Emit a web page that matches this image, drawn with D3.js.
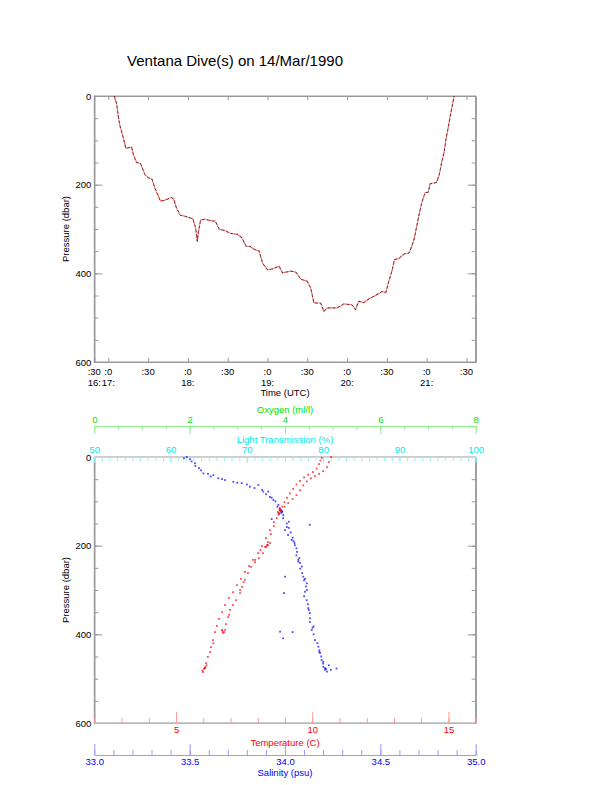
<!DOCTYPE html>
<html>
<head>
<meta charset="utf-8">
<script src="https://cdn.jsdelivr.net/npm/d3@7"></script>
<style>
  body { margin: 0; background: #fff; }
  svg { display: block; }
  text { font-family: "Liberation Sans", Arial, sans-serif; }
</style>
</head>
<body>
<svg id="chart" width="612" height="785"></svg>
<script>
// --- dive track: time (decimal hours UTC) and pressure (dbar)
var diveTime = [17.075, 17.105, 17.125, 17.146, 17.188, 17.221, 17.293, 17.313, 17.355, 17.405,
    17.459, 17.500, 17.550, 17.584, 17.655, 17.709, 17.793, 17.821, 17.855, 17.905,
    17.959, 18.063, 18.096, 18.118, 18.130, 18.159, 18.209, 18.313, 18.343, 18.396,
    18.459, 18.534, 18.625, 18.680, 18.730, 18.780, 18.834, 18.896, 18.938, 19.000,
    19.063, 19.146, 19.188, 19.293, 19.355, 19.418, 19.500, 19.543, 19.584, 19.668,
    19.709, 19.750, 19.875, 19.959, 20.063, 20.105, 20.146, 20.209, 20.271, 20.375,
    20.438, 20.488, 20.521, 20.563, 20.596, 20.646, 20.721, 20.780, 20.813, 20.846,
    20.875, 20.905, 20.938, 20.980, 21.021, 21.043, 21.125, 21.159, 21.188, 21.218,
    21.243, 21.271, 21.293, 21.321, 21.346];
var divePres = [0, 18, 45, 67, 94, 118, 115, 131, 150, 152,
    177, 184, 188, 207, 237, 235, 229, 232, 252, 269,
    271, 277, 297, 328, 309, 280, 278, 282, 282, 301,
    303, 310, 312, 320, 339, 339, 346, 350, 377, 392,
    390, 384, 399, 395, 397, 413, 418, 433, 467, 467,
    486, 478, 478, 469, 471, 482, 463, 466, 458, 448,
    441, 443, 420, 395, 369, 367, 356, 354, 339, 320,
    294, 267, 241, 218, 217, 198, 195, 177, 150, 128,
    97, 71, 48, 22, 0];

var timeTicks = [17, 17.5, 18, 18.5, 19, 19.5, 20, 20.5, 21, 21.5];
var timeMinLabels = [':0', ':30', ':0', ':30', ':0', ':30', ':0', ':30', ':0', ':30'];
var timeHourLabels = ['17:', '', '18:', '', '19:', '', '20:', '', '21:', ''];
var timeStart = [':30', '16:'];
var presTicks = [0, 200, 400, 600];

// --- profile: temperature (C) vs pressure (dbar)
var tempPres = [0, 11, 23, 32, 38, 43, 48, 55, 64, 75, 86, 95, 104, 112, 119,
    2, 8, 16, 26, 34, 40, 46, 54, 62, 72, 82, 92, 102, 112, 120,
    120, 138, 156, 174, 192, 203, 217, 228, 237, 248, 262, 277, 293, 307, 323, 334, 345, 361, 377, 390, 397,
    124, 147, 165, 183, 201, 217, 232, 246, 259, 275, 289, 305, 318, 334, 350, 365, 381, 395, 413, 429, 440, 451, 465, 476, 485,
    200, 203, 198, 395, 392, 478, 482, 474, 121, 117,
    115, 122, 126, 199, 194, 232, 300, 390, 476, 130, 210, 282, 356, 420, 470];
var tempVal = [10.69, 10.61, 10.54, 10.40, 10.25, 10.10, 9.95, 9.80, 9.67, 9.55, 9.42, 9.28, 9.12, 8.98, 8.85,
    10.35, 10.30, 10.25, 10.16, 10.02, 9.85, 9.70, 9.55, 9.42, 9.30, 9.18, 9.07, 8.98, 8.90, 8.84,
    8.81, 8.70, 8.59, 8.48, 8.37, 8.30, 8.19, 8.04, 7.90, 7.75, 7.64, 7.53, 7.42, 7.35, 7.20, 7.09, 6.98, 6.91, 6.83, 6.80, 6.72,
    8.74, 8.59, 8.45, 8.30, 8.15, 8.01, 7.82, 7.68, 7.53, 7.38, 7.24, 7.09, 6.94, 6.80, 6.69, 6.58, 6.50, 6.43, 6.36, 6.28, 6.25, 6.17, 6.10, 6.06, 5.99,
    8.33, 8.27, 8.36, 6.76, 6.70, 6.02, 5.97, 6.08, 8.82, 8.80,
    8.81, 8.85, 8.77, 8.37, 8.45, 7.90, 7.35, 6.69, 6.06, 8.76, 8.10, 7.48, 6.95, 6.37, 6.12];

// --- profile: salinity (psu) vs pressure (dbar)
var salPres = [0, 5, 14, 25, 37, 38, 41, 48, 52, 56, 59, 67, 63, 78, 78, 90, 97, 108, 120, 131,
    150, 165, 176, 187, 199, 214, 232, 239, 247, 270, 285, 304, 323, 341, 364, 390, 413, 428, 442, 458, 473, 480,
    3, 10, 20, 30, 44, 50, 58, 62, 70, 74, 84, 92, 100, 112, 126, 138, 146, 158, 170, 182, 194, 206, 222, 236,
    252, 262, 278, 292, 314, 332, 352, 372, 382, 400, 420, 436, 450, 466, 476, 484,
    270, 307, 394, 409, 477, 153, 140, 480, 395, 470, 118, 122,
    124, 128, 160, 190, 228, 275, 300, 345, 385, 440, 462, 478];
var salVal = [33.485, 33.502, 33.528, 33.549, 33.572, 33.596, 33.624, 33.650, 33.685, 33.729, 33.773, 33.816, 33.860, 33.886, 33.912, 33.921, 33.939, 33.965, 33.974, 33.991,
    34.009, 34.000, 34.016, 34.035, 34.052, 34.063, 34.070, 34.079, 34.088, 34.096, 34.114, 34.105, 34.114, 34.122, 34.131, 34.140, 34.157, 34.175, 34.184, 34.192, 34.201, 34.210,
    33.47, 33.51, 33.53, 33.56, 33.61, 33.67, 33.75, 33.80, 33.84, 33.88, 33.90, 33.93, 33.95, 33.96, 33.98, 33.99, 34.02, 34.01, 34.03, 34.04, 34.05, 34.06, 34.06, 34.07,
    34.08, 34.09, 34.10, 34.11, 34.10, 34.12, 34.13, 34.13, 34.15, 34.15, 34.17, 34.18, 34.19, 34.20, 34.21, 34.22,
    34.00, 33.995, 33.974, 33.99, 34.27, 34.13, 33.93, 34.24, 34.04, 34.23, 33.975, 33.985,
    33.985, 33.97, 34.02, 34.045, 34.075, 34.105, 34.115, 34.125, 34.145, 34.18, 34.20, 34.215];

var svg = d3.select('#chart');
var left = 94.3, right = 475.7;
var top1 = { t: 96, b: 362 };
var top2 = { t: 457, b: 723 };
var grey = '#999';

svg.append('text')
    .attr('x', 235).attr('y', 66)
    .attr('text-anchor', 'middle')
    .attr('font-size', 15)
    .text('Ventana Dive(s) on 14/Mar/1990');

function frame(g, box, stroke) {
    g.append('rect')
        .attr('x', left).attr('y', box.t)
        .attr('width', right - left).attr('height', box.b - box.t)
        .attr('fill', 'none').attr('stroke', stroke);
}

function styleAxis(sel, col, tcol) {
    sel.select('.domain').attr('stroke', col);
    sel.selectAll('.tick line').attr('stroke', col);
    sel.selectAll('.tick text').attr('fill', tcol || '#000')
        .attr('font-size', 9.5).attr('font-family', '"Liberation Sans", Arial, sans-serif');
}

function pressureAxes(g, y) {
    var minor = d3.range(0, 601, 50);
    g.append('g').attr('transform', 'translate(' + left + ',0)')
        .call(d3.axisLeft(y).tickValues(minor).tickSize(-4).tickFormat(''))
        .call(styleAxis, grey);
    g.append('g').attr('transform', 'translate(' + left + ',0)')
        .call(d3.axisLeft(y).tickValues(presTicks).tickSize(-8).tickPadding(3).tickFormat(d3.format('d')))
        .call(styleAxis, grey);
    g.append('g').attr('transform', 'translate(' + right + ',0)')
        .call(d3.axisRight(y).tickValues(minor).tickSize(-4).tickFormat(''))
        .call(styleAxis, grey);
    g.append('g').attr('transform', 'translate(' + right + ',0)')
        .call(d3.axisRight(y).tickValues(presTicks).tickSize(-8).tickFormat(''))
        .call(styleAxis, grey);
    g.append('text')
        .attr('transform', 'translate(69,' + ((y.range()[0] + y.range()[1]) / 2) + ') rotate(-90)')
        .attr('text-anchor', 'middle').attr('font-size', 9.5)
        .text('Pressure (dbar)');
}

// ---------- top panel: pressure vs time
var g1 = svg.append('g');
var x1 = d3.scaleLinear().domain([16.824, 21.616]).range([left, right]);
var y1 = d3.scaleLinear().domain([0, 600]).range([top1.t, top1.b]);

frame(g1, top1, grey);
pressureAxes(g1, y1);

g1.append('g').attr('transform', 'translate(0,' + top1.t + ')')
    .call(d3.axisTop(x1).tickValues(timeTicks).tickSize(-4).tickFormat(''))
    .call(styleAxis, grey);
g1.append('g').attr('transform', 'translate(0,' + top1.b + ')')
    .call(d3.axisBottom(x1).tickValues(timeTicks).tickSize(-4).tickFormat(''))
    .call(styleAxis, grey);

var tl = g1.append('g').attr('font-size', 9.5).attr('text-anchor', 'middle');
timeTicks.forEach(function(t, i) {
    tl.append('text').attr('x', x1(t)).attr('y', 374.5).text(timeMinLabels[i]);
    if (timeHourLabels[i]) tl.append('text').attr('x', x1(t)).attr('y', 385.5).text(timeHourLabels[i]);
});
tl.append('text').attr('x', x1.range()[0]).attr('y', 374.5).text(timeStart[0]);
tl.append('text').attr('x', x1.range()[0]).attr('y', 385.5).text(timeStart[1]);
tl.append('text').attr('x', (left + right) / 2).attr('y', 396).text('Time (UTC)');

var dive = d3.range(diveTime.length).map(function(i) { return [diveTime[i], divePres[i]]; });
var line = d3.line().x(function(d) { return x1(d[0]); }).y(function(d) { return y1(d[1]); });
g1.append('path').datum(dive).attr('d', line)
    .attr('fill', 'none').attr('stroke', '#ff4040').attr('stroke-width', 1.1)
    .attr('stroke-dasharray', '1,0.5');
g1.append('path').datum(dive).attr('d', line)
    .attr('fill', 'none').attr('stroke', '#200000').attr('stroke-width', 0.7)
    .attr('stroke-dasharray', '3,2').attr('opacity', 0.9);

// ---------- bottom panel: profiles
var g2 = svg.append('g');
var y2 = d3.scaleLinear().domain([0, 600]).range([top2.t, top2.b]);
var xTemp = d3.scaleLinear().domain([2, 16]).range([left, right]);
var xSal = d3.scaleLinear().domain([33, 35]).range([left, right]);
var xOxy = d3.scaleLinear().domain([0, 8]).range([left, right]);
var xLt = d3.scaleLinear().domain([50, 100]).range([left, right]);

frame(g2, top2, grey);
pressureAxes(g2, y2);

function colorAxis(g, axisFn, scale, ypos, minorStep, majorStep, minLen, majLen, dir, lineCol, textCol, fmt, pad) {
    var d = scale.domain();
    var minor = d3.range(d[0], d[1] + minorStep / 2, minorStep);
    var major = d3.range(Math.ceil(d[0] / majorStep) * majorStep, d[1] + majorStep / 2, majorStep);
    g.append('g').attr('transform', 'translate(0,' + ypos + ')')
        .call(axisFn(scale).tickValues(minor).tickSize(dir * minLen).tickSizeOuter(0).tickFormat(''))
        .call(styleAxis, lineCol);
    g.append('g').attr('transform', 'translate(0,' + ypos + ')')
        .call(axisFn(scale).tickValues(major).tickSize(dir * majLen).tickSizeOuter(0).tickPadding(pad).tickFormat(fmt))
        .call(styleAxis, lineCol, textCol);
}

// oxygen (top, detached)
colorAxis(g2, d3.axisTop, xOxy, 426, 0.5, 2, 4, 8, -1, '#90f090', '#00e000', d3.format('d'), 3.5);
g2.append('text').attr('x', (left + right) / 2).attr('y', 413).attr('text-anchor', 'middle')
    .attr('font-size', 9.5).attr('fill', '#00e000').text('Oxygen (ml/l)');
// light transmission (top of frame)
colorAxis(g2, d3.axisTop, xLt, top2.t, 1, 10, 4, 6, -1, '#90f0f0', '#00e8e8', d3.format('d'), 4.5);
g2.append('text').attr('x', (left + right) / 2).attr('y', 442.5).attr('text-anchor', 'middle')
    .attr('font-size', 9.5).attr('fill', '#00e8e8').text('Light Transmission (%)');
// temperature (bottom of frame)
colorAxis(g2, d3.axisBottom, xTemp, top2.b, 1, 5, 5, 11, -1, '#ff9999', '#ff0000', d3.format('d'), 3);
g2.append('text').attr('x', (left + right) / 2).attr('y', 746).attr('text-anchor', 'middle')
    .attr('font-size', 9.5).attr('fill', '#ff0000').text('Temperature (C)');
// salinity (detached, below)
colorAxis(g2, d3.axisBottom, xSal, 755, 0.1, 0.5, 5, 11, -1, '#9999ff', '#0000ff', d3.format('.1f'), 3);
g2.append('text').attr('x', (left + right) / 2).attr('y', 775.5).attr('text-anchor', 'middle')
    .attr('font-size', 9.5).attr('fill', '#0000ff').text('Salinity (psu)');

var salPts = d3.range(salPres.length).map(function(i) { return [salVal[i], salPres[i]]; });
g2.append('g').selectAll('rect').data(salPts).enter().append('rect')
    .attr('x', function(d) { return xSal(d[0]) - 0.9; })
    .attr('y', function(d) { return y2(d[1]) - 0.9; })
    .attr('width', 1.8).attr('height', 1.8)
    .attr('fill', '#0000ff').attr('opacity', 0.7);

var tempPts = d3.range(tempPres.length).map(function(i) { return [tempVal[i], tempPres[i]]; });
g2.append('g').selectAll('rect').data(tempPts).enter().append('rect')
    .attr('x', function(d) { return xTemp(d[0]) - 0.9; })
    .attr('y', function(d) { return y2(d[1]) - 0.9; })
    .attr('width', 1.8).attr('height', 1.8)
    .attr('fill', '#ff0000').attr('opacity', 0.7);
</script>
</body>
</html>
